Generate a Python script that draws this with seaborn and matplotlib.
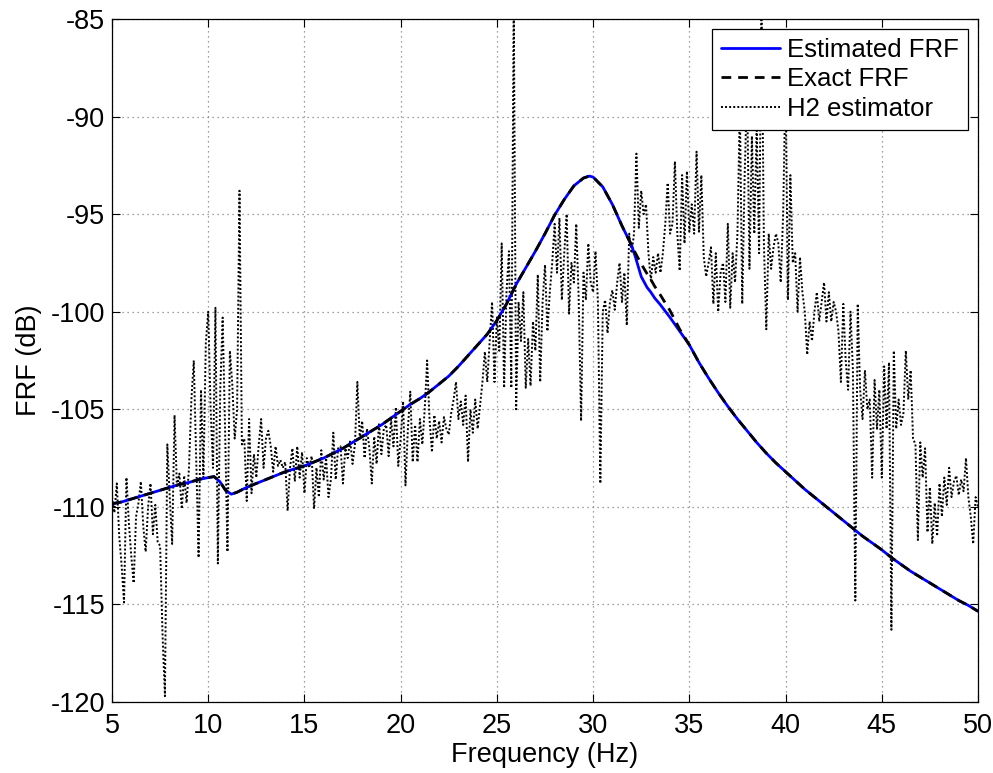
import numpy as np
import pandas as pd
import matplotlib
matplotlib.use("Agg")
import matplotlib.pyplot as plt
import seaborn as sns

# ---------------- data ----------------
# smooth FRFs (frequency in Hz, level in dB)
frf_freq = [5.0, 5.5, 6.0, 6.5, 7.0, 7.5, 8.0, 8.5, 9.0, 9.5, 10.0, 10.3, 10.6, 10.9,
            11.2, 11.5, 12.0, 12.5, 13.0, 13.5, 14.0, 14.5, 15.0, 15.5, 16.0, 16.5,
            17.0, 17.5, 18.0, 18.5, 19.0, 19.5, 20.0, 20.5, 21.0, 21.5, 22.0, 22.5,
            23.0, 23.5, 24.0, 24.5, 25.0, 25.5, 26.0, 26.5, 27.0, 27.5, 28.0, 28.5,
            29.0, 29.5, 29.8, 30.0, 30.5, 31.0, 31.5, 32.0, 32.2, 32.5, 32.8, 33.0,
            33.2, 33.5, 34.0, 34.5, 35.0, 35.5, 36.0, 36.5, 37.0, 37.5, 38.0, 38.5,
            39.0, 39.5, 40.0, 40.5, 41.0, 41.5, 42.0, 42.5, 43.0, 43.5, 44.0, 44.5,
            45.0, 45.5, 46.0, 46.5, 47.0, 47.5, 48.0, 48.5, 49.0, 49.5, 50.0]
exact_frf = [-109.84, -109.75, -109.6, -109.45, -109.3, -109.15, -109.0, -108.85,
             -108.75, -108.6, -108.5, -108.45, -108.7, -109.15, -109.35, -109.25,
             -109.0, -108.8, -108.6, -108.4, -108.2, -108.05, -107.9, -107.7, -107.5,
             -107.25, -107.0, -106.7, -106.4, -106.1, -105.8, -105.45, -105.1, -104.75,
             -104.45, -104.1, -103.7, -103.3, -102.8, -102.25, -101.7, -101.15,
             -100.45, -99.6, -98.6, -97.75, -96.9, -96.0, -95.05, -94.25, -93.55,
             -93.15, -93.05, -93.1, -93.6, -94.5, -95.6, -96.6, -97.0, -97.55, -98.05,
             -98.35, -98.7, -99.15, -99.95, -100.9, -101.7, -102.6, -103.4, -104.15,
             -104.85, -105.5, -106.1, -106.7, -107.25, -107.75, -108.2, -108.65,
             -109.1, -109.5, -109.9, -110.3, -110.7, -111.1, -111.5, -111.85, -112.2,
             -112.6, -112.95, -113.3, -113.6, -113.9, -114.2, -114.5, -114.8,
             -115.05, -115.35]
estimated_frf = [-109.84, -109.75, -109.6, -109.45, -109.3, -109.15, -109.0, -108.85,
                 -108.75, -108.6, -108.5, -108.45, -108.7, -109.15, -109.35, -109.25,
                 -109.0, -108.8, -108.6, -108.4, -108.2, -108.05, -107.9, -107.7, -107.5,
                 -107.25, -107.0, -106.7, -106.4, -106.1, -105.8, -105.45, -105.1, -104.75,
                 -104.45, -104.1, -103.7, -103.3, -102.8, -102.25, -101.7, -101.15,
                 -100.45, -99.6, -98.6, -97.75, -96.9, -96.0, -95.05, -94.25, -93.55,
                 -93.15, -93.05, -93.1, -93.6, -94.5, -95.6, -96.6, -97.2, -98.2, -98.75,
                 -99.0, -99.3, -99.65, -100.3, -101.0, -101.7, -102.6, -103.4, -104.15,
                 -104.85, -105.5, -106.1, -106.7, -107.25, -107.75, -108.2, -108.65,
                 -109.1, -109.5, -109.9, -110.3, -110.7, -111.1, -111.5, -111.85, -112.2,
                 -112.6, -112.95, -113.3, -113.6, -113.9, -114.2, -114.5, -114.8,
                 -115.05, -115.35]

# H2 estimator, sampled every 0.125 Hz from 5 to 50 Hz (one row per Hz)
h2_start, h2_step = 5.0, 0.125
h2_values = [
    -109.5, -110.3, -108.8, -111.5, -113.0, -114.9, -108.5, -110.8,   # 5
    -112.5, -113.9, -110.5, -109.8, -108.7, -111.0, -112.3, -110.0,   # 6
    -108.8, -111.4, -109.9, -111.8, -112.0, -116.5, -119.7, -106.8,   # 7
    -109.5, -111.9, -105.3, -109.0, -108.3, -110.1, -108.4, -109.8,   # 8
    -108.0, -104.5, -102.5, -107.5, -112.6, -104.0, -108.5, -101.6,   # 9
    -100.0, -105.0, -108.0, -99.8, -112.9, -104.0, -100.3, -106.0,    # 10
    -112.3, -102.0, -103.7, -106.5, -105.0, -93.8, -106.8, -106.5,    # 11
    -109.7, -105.5, -109.3, -107.3, -108.5, -106.8, -105.5, -108.0,   # 12
    -106.5, -106.1, -106.9, -108.2, -106.9, -107.9, -107.6, -108.0,   # 13
    -107.7, -110.2, -108.0, -107.0, -108.7, -106.9, -108.5, -107.2,   # 14
    -109.3, -107.5, -108.0, -107.4, -110.1, -108.0, -109.5, -107.1,   # 15
    -108.6, -107.5, -109.5, -108.6, -106.2, -108.6, -107.0, -106.9,   # 16
    -108.8, -107.0, -107.5, -106.6, -107.8, -106.8, -103.6, -106.5,   # 17
    -105.6, -107.5, -106.0, -107.0, -108.8, -106.4, -107.8, -105.7,   # 18
    -107.3, -106.0, -105.8, -107.4, -105.5, -106.9, -104.9, -107.9,   # 19
    -106.5, -104.6, -108.9, -106.0, -104.1, -107.7, -105.8, -107.7,   # 20
    -105.5, -106.8, -105.0, -102.5, -105.5, -107.2, -105.3, -106.5,   # 21
    -105.6, -106.7, -105.4, -106.0, -106.3, -105.2, -104.5, -103.6,   # 22
    -105.5, -104.6, -105.8, -104.3, -107.7, -105.0, -106.2, -104.5,   # 23
    -106.0, -104.8, -103.6, -102.05, -103.6, -101.5, -99.5, -103.6,   # 24
    -100.3, -102.0, -96.5, -103.9, -99.0, -96.9, -103.9, -84.0,       # 25
    -105.0, -99.5, -101.5, -99.0, -103.9, -101.4, -103.8, -100.5,     # 26
    -102.0, -98.1, -103.6, -99.5, -97.6, -101.0, -99.0, -97.5,        # 27
    -95.5, -98.0, -95.2, -99.4, -97.0, -95.0, -100.1, -97.5,          # 28
    -98.5, -95.5, -99.3, -105.6, -98.0, -99.4, -96.5, -98.5,          # 29
    -99.0, -96.9, -99.5, -108.8, -100.0, -99.4, -101.1, -99.5,        # 30
    -98.9, -99.9, -98.5, -97.5, -99.5, -98.0, -100.7, -96.0,          # 31
    -97.0, -96.0, -91.9, -95.7, -93.8, -95.0, -94.5, -97.0,           # 32
    -98.4, -97.2, -98.0, -97.0, -98.0, -97.0, -95.5, -93.4,           # 33
    -96.0, -95.5, -92.3, -96.0, -97.9, -93.0, -96.5, -92.8,           # 34
    -95.9, -94.5, -96.0, -91.8, -95.9, -93.0, -97.2, -98.2,           # 35
    -97.5, -96.7, -99.6, -97.0, -100.0, -98.0, -97.5, -99.5,          # 36
    -95.5, -99.8, -97.0, -98.5, -96.0, -89.5, -99.6, -93.0,           # 37
    -88.5, -97.8, -91.0, -96.0, -90.5, -97.0, -84.0, -96.5,           # 38
    -100.9, -96.0, -97.8, -96.7, -96.0, -96.5, -98.5, -95.0,          # 39
    -88.0, -99.4, -93.0, -97.5, -97.0, -100.0, -97.2, -99.0,          # 40
    -100.0, -102.2, -100.5, -101.5, -100.0, -99.0, -100.5, -99.5,     # 41
    -98.5, -100.5, -99.0, -100.5, -99.5, -100.0, -101.0, -103.6,      # 42
    -99.6, -102.5, -104.0, -100.0, -103.0, -114.8, -99.6, -104.0,     # 43
    -105.5, -103.0, -105.0, -104.5, -108.5, -103.5, -106.0, -104.0,   # 44
    -108.5, -102.8, -106.0, -102.6, -116.3, -102.0, -106.0, -104.5,   # 45
    -105.8, -105.2, -102.0, -104.5, -103.0, -106.5, -106.8, -111.7,   # 46
    -106.7, -108.5, -107.0, -111.3, -109.0, -111.9, -109.8, -111.5,   # 47
    -108.8, -110.5, -108.5, -109.9, -108.0, -109.5, -108.7, -108.4,   # 48
    -109.4, -108.6, -109.2, -107.5, -109.5, -110.5, -111.9, -109.5,   # 49
    -110.0,                                                            # 50
]
h2_freq = h2_start + h2_step * np.arange(len(h2_values))

x_ticks = [5, 10, 15, 20, 25, 30, 35, 40, 45, 50]
y_ticks = [-120, -115, -110, -105, -100, -95, -90, -85]

# ---------------- plotting ----------------
sns.set_style("ticks")
plt.rcParams["font.family"] = ["Liberation Sans", "DejaVu Sans"]
plt.rcParams["axes.edgecolor"] = "black"
plt.rcParams["axes.labelcolor"] = "black"
plt.rcParams["text.color"] = "black"
plt.rcParams["xtick.color"] = "black"
plt.rcParams["ytick.color"] = "black"

fig = plt.figure(figsize=(9.93, 7.73), dpi=100)
ax = fig.add_axes([112 / 993, 71 / 773, 866 / 993, 683 / 773])

df_h2 = pd.DataFrame({"f": h2_freq, "v": h2_values})
df_est = pd.DataFrame({"f": frf_freq, "v": estimated_frf})
df_ex = pd.DataFrame({"f": frf_freq, "v": exact_frf})

sns.lineplot(data=df_h2, x="f", y="v", ax=ax, color="black", lw=1.4,
             linestyle=(0, (1, 1.1)), estimator=None, sort=False, zorder=2)
sns.lineplot(data=df_est, x="f", y="v", ax=ax, color="#0000ff", lw=2.0,
             estimator=None, sort=False, zorder=3)
sns.lineplot(data=df_ex, x="f", y="v", ax=ax, color="black", lw=2.0,
             linestyle=(0, (3.5, 2.5)), estimator=None, sort=False, zorder=4)

lines = ax.get_lines()
h2_line, est_line, ex_line = lines[0], lines[1], lines[2]

ax.set_xlim(5, 50)
ax.set_ylim(-120, -85)
ax.set_xticks(x_ticks)
ax.set_yticks(y_ticks)
ax.set_xticklabels([str(t) for t in x_ticks])
ax.set_yticklabels([str(t) for t in y_ticks])

ax.grid(True, color="#808080", linestyle=(0, (1, 3)), linewidth=0.9)
ax.set_axisbelow(True)
for s in ax.spines.values():
    s.set_visible(True)
    s.set_color("black")
    s.set_linewidth(0.9)

ax.tick_params(axis="both", which="major", direction="in", length=6, width=0.8,
               labelsize=19.5, colors="black", top=True, right=True)
ax.tick_params(axis="x", pad=8)
ax.tick_params(axis="y", pad=5)

ax.set_xlabel("Frequency (Hz)", fontsize=19.5, labelpad=2, color="black")
ax.set_ylabel("FRF (dB)", fontsize=19.5, labelpad=6, color="black")

leg = ax.legend([est_line, ex_line, h2_line],
                ["Estimated FRF", "Exact FRF", "H2 estimator"],
                loc="upper right", fontsize=18.5, frameon=True, fancybox=False,
                framealpha=1.0, edgecolor="black", handlelength=2.3,
                handletextpad=0.25, labelspacing=0.2, borderpad=0.35,
                borderaxespad=0.4)
leg.get_frame().set_linewidth(0.9)
leg.set_zorder(10)
for t in leg.get_texts():
    t.set_color("black")

fig.savefig("out.png", dpi=100)
